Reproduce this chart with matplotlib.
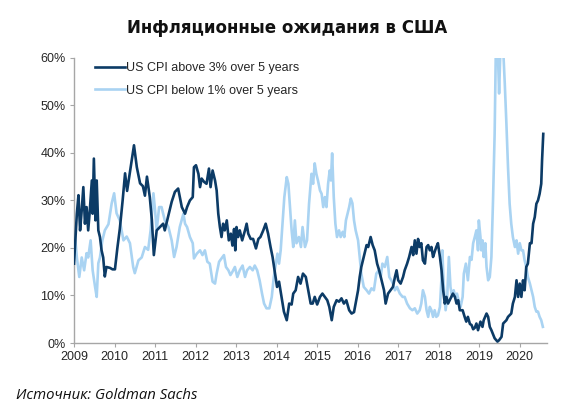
#!/usr/bin/env python3
"""Inflation expectations in the US: probability of CPI above 3% / below 1% over 5 years."""

import matplotlib
matplotlib.use('Agg')
import matplotlib.pyplot as plt
from matplotlib.ticker import FuncFormatter

# --- data (year, % probability) ---
above_years = [
    2009.00, 2009.07, 2009.11, 2009.15, 2009.19, 2009.23, 2009.27, 2009.31, 2009.35, 2009.39,
    2009.44, 2009.46, 2009.49, 2009.53, 2009.56, 2009.60, 2009.64, 2009.68, 2009.72, 2009.76,
    2009.80, 2009.89, 2009.95, 2010.01, 2010.07, 2010.13, 2010.20, 2010.26, 2010.31, 2010.38,
    2010.48, 2010.55, 2010.63, 2010.70, 2010.75, 2010.80, 2010.87, 2010.92, 2010.97, 2011.04,
    2011.12, 2011.20, 2011.24, 2011.33, 2011.41, 2011.49, 2011.57, 2011.66, 2011.74, 2011.79,
    2011.86, 2011.93, 2011.96, 2012.01, 2012.07, 2012.11, 2012.15, 2012.21, 2012.27, 2012.33,
    2012.37, 2012.42, 2012.48, 2012.52, 2012.56, 2012.60, 2012.64, 2012.68, 2012.72, 2012.77,
    2012.82, 2012.87, 2012.91, 2012.95, 2012.98, 2013.01, 2013.05, 2013.09, 2013.15, 2013.22,
    2013.26, 2013.30, 2013.36, 2013.42, 2013.49, 2013.55, 2013.60, 2013.67, 2013.73, 2013.79,
    2013.85, 2013.90, 2013.96, 2014.01, 2014.06, 2014.12, 2014.18, 2014.25, 2014.31, 2014.37,
    2014.41, 2014.47, 2014.53, 2014.59, 2014.65, 2014.72, 2014.78, 2014.84, 2014.89, 2014.94,
    2015.00, 2015.07, 2015.13, 2015.19, 2015.25, 2015.30, 2015.36, 2015.41, 2015.48, 2015.54,
    2015.60, 2015.66, 2015.72, 2015.79, 2015.85, 2015.91, 2015.95, 2016.01, 2016.05, 2016.09,
    2016.15, 2016.22, 2016.26, 2016.32, 2016.37, 2016.42, 2016.48, 2016.53, 2016.59, 2016.65,
    2016.69, 2016.75, 2016.81, 2016.87, 2016.92, 2016.96, 2017.00, 2017.06, 2017.12, 2017.16,
    2017.22, 2017.27, 2017.33, 2017.37, 2017.41, 2017.45, 2017.49, 2017.53, 2017.57, 2017.61,
    2017.66, 2017.70, 2017.74, 2017.78, 2017.82, 2017.86, 2017.90, 2017.94, 2017.98, 2018.03,
    2018.07, 2018.11, 2018.15, 2018.19, 2018.23, 2018.27, 2018.31, 2018.35, 2018.40, 2018.44,
    2018.48, 2018.52, 2018.59, 2018.64, 2018.68, 2018.72, 2018.77, 2018.81, 2018.85, 2018.89,
    2018.93, 2018.97, 2019.03, 2019.08, 2019.11, 2019.18, 2019.22, 2019.26, 2019.30, 2019.38,
    2019.45, 2019.49, 2019.55, 2019.59, 2019.67, 2019.71, 2019.79, 2019.83, 2019.88, 2019.92,
    2019.96, 2020.00, 2020.04, 2020.08, 2020.12, 2020.16, 2020.20, 2020.25, 2020.29, 2020.33,
    2020.37, 2020.41, 2020.45, 2020.49, 2020.53, 2020.55, 2020.58,
]
above_vals = [
    16.7, 27.2, 31.1, 23.7, 27.9, 32.8, 25.1, 28.6, 23.7, 27.9,
    34.2, 27.2, 38.8, 25.8, 34.2, 23.7, 22.3, 19.5, 18.0, 14.0,
    16.0, 15.8, 15.5, 15.5, 20.0, 24.0, 30.0, 35.7, 32.0, 36.0,
    41.6, 37.0, 33.6, 33.0, 31.0, 35.0, 30.7, 26.0, 18.5, 23.7,
    24.4, 25.1, 23.7, 26.9, 29.7, 31.8, 32.5, 28.6, 27.2, 28.6,
    30.0, 30.7, 37.0, 37.4, 35.6, 32.8, 34.6, 33.9, 33.5, 36.7,
    32.8, 36.3, 34.2, 32.1, 27.2, 24.4, 22.3, 25.1, 23.7, 25.8,
    21.6, 23.0, 20.5, 24.0, 19.5, 24.4, 22.3, 23.7, 21.6, 23.7,
    25.1, 23.0, 21.9, 21.9, 19.9, 21.9, 22.3, 23.7, 25.1, 23.0,
    20.2, 18.1, 14.6, 11.8, 12.9, 9.7, 6.6, 4.8, 8.3, 8.1,
    10.4, 11.1, 13.9, 12.5, 14.6, 13.9, 11.1, 8.3, 8.3, 9.7,
    8.1, 9.7, 10.4, 9.7, 9.0, 7.6, 4.8, 7.6, 9.0, 8.7,
    9.4, 8.3, 9.0, 6.9, 6.2, 6.5, 8.3, 11.1, 13.9, 16.0,
    18.1, 20.6, 20.2, 22.3, 20.6, 19.5, 16.7, 15.3, 13.2, 11.1,
    8.3, 10.4, 11.1, 11.8, 13.9, 15.3, 13.2, 12.5, 13.9, 15.3,
    16.7, 18.1, 20.2, 18.5, 21.6, 18.8, 21.9, 20.2, 21.0, 17.4,
    16.7, 20.2, 20.6, 19.5, 20.2, 18.1, 19.2, 20.2, 21.0, 18.1,
    15.3, 11.1, 8.3, 9.7, 8.3, 9.0, 9.7, 10.4, 9.7, 8.3,
    9.0, 6.9, 6.9, 5.5, 4.5, 5.5, 4.0, 3.8, 2.9, 3.2,
    4.1, 2.7, 4.5, 3.4, 4.8, 6.2, 5.5, 3.4, 2.7, 1.0,
    0.3, 0.6, 1.3, 4.1, 4.8, 5.5, 6.2, 8.3, 9.7, 13.2,
    9.7, 12.5, 9.7, 13.2, 11.1, 16.0, 16.7, 21.0, 21.0, 25.1,
    26.5, 29.3, 30.0, 31.4, 33.5, 38.4, 44.0,
]

below_years = [
    2009.00, 2009.07, 2009.13, 2009.19, 2009.25, 2009.31, 2009.35, 2009.41, 2009.46, 2009.52,
    2009.56, 2009.60, 2009.64, 2009.70, 2009.76, 2009.85, 2009.93, 2009.99, 2010.05, 2010.13,
    2010.22, 2010.30, 2010.38, 2010.46, 2010.50, 2010.59, 2010.67, 2010.75, 2010.83, 2010.89,
    2010.96, 2011.00, 2011.04, 2011.10, 2011.16, 2011.24, 2011.33, 2011.41, 2011.47, 2011.53,
    2011.61, 2011.70, 2011.74, 2011.79, 2011.86, 2011.93, 2011.96, 2012.03, 2012.11, 2012.17,
    2012.23, 2012.29, 2012.35, 2012.42, 2012.48, 2012.52, 2012.58, 2012.64, 2012.70, 2012.75,
    2012.81, 2012.86, 2012.91, 2012.97, 2013.03, 2013.09, 2013.16, 2013.22, 2013.27, 2013.34,
    2013.41, 2013.46, 2013.52, 2013.58, 2013.64, 2013.69, 2013.75, 2013.82, 2013.88, 2013.93,
    2013.98, 2014.02, 2014.06, 2014.10, 2014.15, 2014.19, 2014.25, 2014.29, 2014.33, 2014.37,
    2014.41, 2014.45, 2014.49, 2014.55, 2014.60, 2014.64, 2014.70, 2014.75, 2014.80, 2014.86,
    2014.90, 2014.94, 2014.98, 2015.02, 2015.07, 2015.11, 2015.15, 2015.19, 2015.23, 2015.27,
    2015.31, 2015.34, 2015.37, 2015.41, 2015.45, 2015.49, 2015.54, 2015.58, 2015.63, 2015.67,
    2015.71, 2015.75, 2015.79, 2015.83, 2015.87, 2015.91, 2015.95, 2016.01, 2016.05, 2016.09,
    2016.15, 2016.22, 2016.28, 2016.34, 2016.40, 2016.46, 2016.52, 2016.57, 2016.61, 2016.67,
    2016.73, 2016.78, 2016.83, 2016.87, 2016.92, 2016.97, 2017.04, 2017.11, 2017.16, 2017.22,
    2017.29, 2017.35, 2017.41, 2017.47, 2017.53, 2017.57, 2017.61, 2017.66, 2017.70, 2017.74,
    2017.78, 2017.82, 2017.86, 2017.90, 2017.94, 2017.98, 2018.03, 2018.07, 2018.09, 2018.12,
    2018.17, 2018.21, 2018.25, 2018.29, 2018.33, 2018.37, 2018.41, 2018.45, 2018.49, 2018.54,
    2018.59, 2018.62, 2018.67, 2018.72, 2018.77, 2018.81, 2018.85, 2018.89, 2018.93, 2018.97,
    2018.99, 2019.03, 2019.05, 2019.08, 2019.11, 2019.15, 2019.18, 2019.22, 2019.26, 2019.30,
    2019.34, 2019.38, 2019.41, 2019.46, 2019.49, 2019.52, 2019.59, 2019.63, 2019.67, 2019.71,
    2019.75, 2019.79, 2019.83, 2019.88, 2019.92, 2019.96, 2020.00, 2020.04, 2020.08, 2020.12,
    2020.16, 2020.20, 2020.25, 2020.29, 2020.33, 2020.37, 2020.41, 2020.45, 2020.49, 2020.53,
    2020.57,
]
below_vals = [
    25.0, 18.0, 13.9, 18.0, 15.3, 18.9, 18.0, 21.6, 15.3, 11.8,
    9.7, 16.8, 18.0, 21.6, 23.7, 25.0, 29.4, 31.5, 27.3, 25.8,
    21.6, 22.4, 21.0, 16.0, 14.7, 17.4, 18.0, 20.2, 19.6, 23.7,
    31.5, 27.9, 23.7, 28.6, 28.6, 25.8, 24.4, 21.6, 18.1, 20.2,
    24.4, 27.2, 25.1, 24.4, 22.3, 21.0, 17.8, 18.8, 19.5, 18.5,
    19.5, 17.1, 16.7, 12.9, 12.5, 14.6, 17.1, 17.8, 18.5, 16.0,
    15.3, 14.3, 15.0, 16.0, 13.9, 15.3, 16.3, 13.9, 15.3, 16.0,
    15.3, 16.3, 15.3, 13.2, 10.4, 8.3, 7.3, 7.3, 9.7, 13.9,
    16.7, 18.8, 16.7, 19.5, 25.8, 30.7, 34.9, 33.5, 28.6, 23.7,
    20.2, 25.8, 21.0, 22.3, 20.2, 24.4, 20.2, 21.6, 29.3, 35.6,
    33.5, 37.8, 35.6, 34.2, 32.1, 31.4, 28.6, 30.7, 28.6, 33.5,
    36.3, 34.2, 39.9, 30.7, 25.1, 22.3, 23.7, 22.3, 23.4, 22.3,
    25.8, 27.2, 28.6, 30.4, 29.4, 25.8, 23.7, 21.6, 18.1, 14.6,
    11.8, 11.1, 10.4, 11.5, 11.1, 14.6, 15.3, 13.9, 16.7, 16.0,
    18.1, 13.9, 13.2, 12.5, 11.1, 11.8, 10.4, 9.7, 9.7, 8.3,
    7.3, 6.9, 7.3, 6.2, 6.9, 8.3, 11.1, 9.7, 6.9, 5.5,
    7.6, 6.9, 5.5, 6.9, 5.5, 5.8, 7.6, 13.9, 19.5, 12.5,
    6.9, 9.7, 18.1, 11.8, 9.7, 11.1, 9.7, 10.4, 9.0, 7.6,
    9.7, 14.6, 16.7, 13.2, 18.1, 17.5, 21.0, 22.3, 23.7, 19.5,
    25.8, 22.3, 19.5, 21.6, 18.1, 21.0, 16.0, 13.2, 13.9, 18.1,
    30.0, 44.0, 62.0, 61.0, 52.5, 61.0, 62.0, 54.6, 46.2, 37.0,
    29.3, 25.1, 22.3, 20.2, 21.6, 18.8, 21.0, 19.5, 19.5, 17.4,
    16.0, 13.9, 12.5, 11.1, 9.7, 7.6, 6.6, 6.6, 5.5, 4.8,
    3.4,
]

above_label = 'US CPI above 3% over 5 years'
below_label = 'US CPI below 1% over 5 years'
year_ticks = list(range(2009, 2021))
pct_ticks = [0, 10, 20, 30, 40, 50, 60]

DARK = '#0c3b66'
LIGHT = '#a9d3f2'
TEXT = '#262626'

fig = plt.figure(figsize=(5.86, 4.2), dpi=100)
ax = fig.add_axes([0.1263, 0.1833, 0.807, 0.679])

ax.plot(above_years, above_vals, color=DARK, lw=1.9, label=above_label, zorder=3)
ax.plot(below_years, below_vals, color=LIGHT, lw=1.9, label=below_label, zorder=2)

ax.set_xlim(2009, 2020.67)
ax.set_ylim(0, 60)
ax.set_xticks(year_ticks)
ax.set_yticks(pct_ticks)
ax.yaxis.set_major_formatter(FuncFormatter(lambda v, _: f'{v:.0f}%'))

for side in ('top', 'right'):
    ax.spines[side].set_visible(False)
for side in ('left', 'bottom'):
    ax.spines[side].set_color('#a6a6a6')
    ax.spines[side].set_linewidth(1.0)
ax.tick_params(axis='both', direction='out', length=3, width=0.8, color='#a6a6a6',
               labelsize=9, labelcolor=TEXT, pad=3)
for lab in ax.get_xticklabels() + ax.get_yticklabels():
    lab.set_family('Liberation Sans')

leg = ax.legend(loc='upper left', bbox_to_anchor=(0.044, 0.985), frameon=False,
                borderaxespad=0, borderpad=0, handlelength=2.4, handletextpad=0.1,
                labelspacing=0.85, prop={'family': 'Liberation Sans', 'size': 9})
for t in leg.get_texts():
    t.set_color(TEXT)

fig.text(0.49, 0.933, 'Инфляционные ожидания в США', ha='center', va='center',
         fontsize=12, fontweight='bold', family='DejaVu Sans', color='#111111')
fig.text(0.027, 0.058, 'Источник: Goldman Sachs', ha='left', va='center',
         fontsize=10.7, style='italic', family='Open Sans', color='#111111')

fig.savefig('out.png', dpi=100)
